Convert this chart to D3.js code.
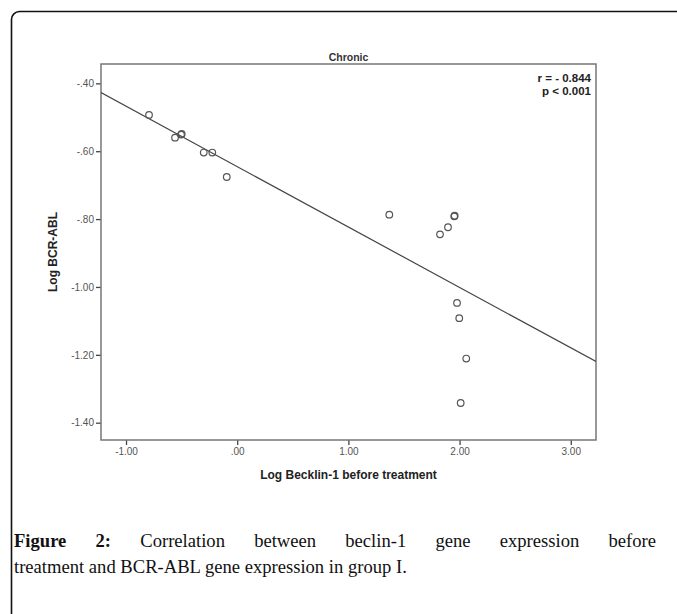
<!DOCTYPE html>
<html><head><meta charset="utf-8">
<script src="https://cdn.jsdelivr.net/npm/d3@7"></script>
<style>html,body{margin:0;padding:0;background:#fff;}svg{display:block;}</style>
</head><body>
<svg id="c" width="677" height="614"></svg>
<script>
// Data
const xValues = [-0.793, -0.559, -0.505, -0.499, -0.301, -0.224, -0.094, 1.368, 1.952, 1.956, 1.896, 1.824, 1.977, 1.997, 2.060, 2.010];
const yValues = [-0.493, -0.560, -0.551, -0.549, -0.604, -0.604, -0.676, -0.787, -0.792, -0.790, -0.824, -0.845, -1.047, -1.092, -1.211, -1.342];
const xTicks = [-1, 0, 1, 2, 3];
const xTickLabels = ["-1.00", ".00", "1.00", "2.00", "3.00"];
const yTicks = [-0.4, -0.6, -0.8, -1.0, -1.2, -1.4];
const yTickLabels = ["-.40", "-.60", "-.80", "-1.00", "-1.20", "-1.40"];
const fitLine = [-0.6454, -0.178]; // intercept, slope
const xDomain = [-1.225, 3.227];
const yDomain = [-1.451, -0.343];
const titleText = "Chronic";
const xTitle = "Log Becklin-1 before treatment";
const yTitle = "Log BCR-ABL";
const statLines = ["r = - 0.844", "p < 0.001"];
const captionBold = "Figure 2:";
const captionLine1 = "Correlation between beclin-1 gene expression before";
const captionLine2 = "treatment and BCR-ABL gene expression in group I.";

const svg = d3.select("#c");
// outer rounded frame (extends beyond the window)
svg.append("rect").attr("x", 11.5).attr("y", 11.5).attr("width", 700).attr("height", 650)
  .attr("rx", 8).attr("fill", "none").attr("stroke", "#111").attr("stroke-width", 1.6);

const L = 101, R = 596, T = 64, B = 440;
const x = d3.scaleLinear().domain(xDomain).range([L, R]);
const y = d3.scaleLinear().domain(yDomain).range([B, T]);

const g = svg.append("g");
const xa = g.append("g").attr("transform", `translate(0,${B})`)
  .call(d3.axisBottom(x).tickValues(xTicks).tickFormat((d, i) => xTickLabels[i]).tickSize(5).tickPadding(3));
const ya = g.append("g").attr("transform", `translate(${L},0)`)
  .call(d3.axisLeft(y).tickValues(yTicks).tickFormat((d, i) => yTickLabels[i]).tickSize(5).tickPadding(2));
[xa, ya].forEach(a => {
  a.select(".domain").remove();
  a.selectAll("line").attr("stroke", "#444").attr("stroke-width", 1.3);
  a.selectAll("text").attr("fill", "#555").attr("font-family", "Liberation Sans, Arial, sans-serif").attr("font-size", 10);
});
// plot frame
g.append("rect").attr("x", L).attr("y", T).attr("width", R - L).attr("height", B - T)
  .attr("fill", "none").attr("stroke", "#777").attr("stroke-width", 1.5);

// fit line, clipped to frame
svg.append("clipPath").attr("id", "clip").append("rect").attr("x", L).attr("y", T).attr("width", R - L).attr("height", B - T);
const fx = xDomain.map(v => [v, fitLine[0] + fitLine[1] * v]);
g.append("path").attr("clip-path", "url(#clip)")
  .attr("d", d3.line().x(d => x(d[0])).y(d => y(d[1]))(fx))
  .attr("fill", "none").attr("stroke", "#444").attr("stroke-width", 1.2);

// points
g.selectAll("circle.pt").data(xValues.map((v, i) => [v, yValues[i]])).join("circle")
  .attr("class", "pt").attr("cx", d => x(d[0])).attr("cy", d => y(d[1])).attr("r", 3.3)
  .attr("fill", "none").attr("stroke", "#555").attr("stroke-width", 1.2);

// titles
const sans = "Liberation Sans, Arial, sans-serif";
svg.append("text").attr("x", (L + R) / 2).attr("y", 61).attr("text-anchor", "middle")
  .attr("font-family", sans).attr("font-weight", "bold").attr("font-size", 10.5).attr("fill", "#333").text(titleText);
svg.append("text").attr("x", (L + R) / 2).attr("y", 479).attr("text-anchor", "middle")
  .attr("font-family", sans).attr("font-weight", "bold").attr("font-size", 12).attr("fill", "#222").text(xTitle);
svg.append("text").attr("transform", `translate(57,${(T + B) / 2}) rotate(-90)`).attr("text-anchor", "middle")
  .attr("font-family", sans).attr("font-weight", "bold").attr("font-size", 12).attr("fill", "#222").text(yTitle);
statLines.forEach((s, i) => {
  svg.append("text").attr("x", 591).attr("y", 82 + i * 13).attr("text-anchor", "end")
    .attr("font-family", sans).attr("font-weight", "bold").attr("font-size", 11.5).attr("fill", "#222").text(s);
});

// caption (justified first line)
const serif = "Liberation Serif, Times New Roman, serif";
const fs = 18.6;
const cap = svg.append("g").attr("font-family", serif).attr("font-size", fs).attr("fill", "#111");
const words1 = captionBold.split(" ").map(w => ({w, bold: true}))
  .concat(captionLine1.split(" ").map(w => ({w, bold: false})));
const x0 = 14, x1 = 656;
const tmp = words1.map(o => {
  const t = cap.append("text").attr("y", 547).attr("font-weight", o.bold ? "bold" : "normal").text(o.w);
  return {t, len: t.node().getComputedTextLength()};
});
const total = d3.sum(tmp, d => d.len);
const gap = (x1 - x0 - total) / (tmp.length - 1);
let cx = x0;
tmp.forEach(d => { d.t.attr("x", cx); cx += d.len + gap; });
cap.append("text").attr("x", x0).attr("y", 573).text(captionLine2);
</script>
</body></html>
